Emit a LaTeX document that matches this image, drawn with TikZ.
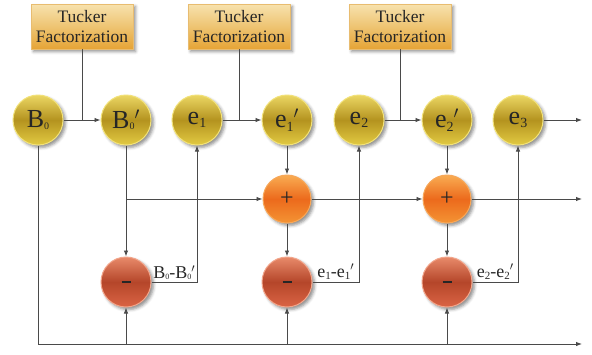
\documentclass[tikz,border=0pt]{standalone}
\usepackage{fontspec}
\setmainfont{Liberation Serif}
\usetikzlibrary{arrows.meta,shadows.blur,calc}

\definecolor{wirecol}{HTML}{4A4A4A}
\definecolor{boxtop}{HTML}{F7E2AE}
\definecolor{boxmid}{HTML}{EEC472}
\definecolor{boxbot}{HTML}{E6A436}
\definecolor{boxedge}{HTML}{E8BC70}
\definecolor{goldtop}{HTML}{EBD663}
\definecolor{goldmid}{HTML}{B4931F}
\definecolor{goldbot}{HTML}{E2CA42}
\definecolor{goldedge}{HTML}{F2E27A}
\definecolor{orgtop}{HTML}{F9AC52}
\definecolor{orgmid}{HTML}{EC6A1C}
\definecolor{orgbot}{HTML}{F49434}
\definecolor{orgedge}{HTML}{F7A85A}
\definecolor{redtop}{HTML}{E88A6A}
\definecolor{redmid}{HTML}{B5462A}
\definecolor{redbot}{HTML}{DA6444}
\definecolor{rededge}{HTML}{F2A68C}

% small index digits set close to the baseline
\newcommand{\lowidx}[1]{\raisebox{-0.1ex}{\fontsize{10}{10}\selectfont #1}}
\newcommand{\midx}[1]{\raisebox{-0.3ex}{\fontsize{14}{14}\selectfont #1}}
\newcommand{\smallidx}[1]{\raisebox{-0.1ex}{\fontsize{8}{8}\selectfont #1}}
\newcommand{\labidx}[1]{\raisebox{-0.3ex}{\fontsize{11}{11}\selectfont #1}}
\newcommand{\prm}{\ensuremath{{}'}}

\tikzset{
  wire/.style={draw=wirecol, line width=0.9pt},
  arr/.style={wire, -{Latex[length=6pt,width=4.5pt]}},
  shadowed/.style={blur shadow={shadow xshift=2.5pt, shadow yshift=-2.5pt,
      shadow blur radius=3pt, shadow opacity=45}},
  tucker/.style={rectangle, minimum width=102pt, minimum height=45pt,
      inner sep=0pt, draw=boxedge, line width=0.4pt, shadowed,
      top color=boxtop, bottom color=boxbot, middle color=boxmid,
      font=\fontsize{17.5}{20}\selectfont, align=center, text=black!85},
  ball/.style={circle, minimum size=50pt, inner sep=0pt, line width=1pt,
      shadowed, text=black!85},
  gold/.style={ball, draw=goldedge, top color=goldtop, bottom color=goldbot,
      middle color=goldmid, font=\fontsize{26}{26}\selectfont},
  plusball/.style={ball, minimum size=48pt, draw=orgedge, top color=orgtop,
      bottom color=orgbot, middle color=orgmid, font=\fontsize{24}{24}\selectfont},
  minusball/.style={ball, draw=rededge, top color=redtop, bottom color=redbot,
      middle color=redmid},
  difflabel/.style={midway, above, inner sep=2pt, font=\fontsize{18}{18}\selectfont,
      text=black!85}
}

\begin{document}
\begin{tikzpicture}[x=1pt, y=-1pt]
\useasboundingbox (0,0) rectangle (592,354);

% factorization blocks
\node[tucker] (t1) at (82,26.5)  {Tucker\\Factorization};
\node[tucker] (t2) at (239,26.5) {Tucker\\Factorization};
\node[tucker] (t3) at (400,26.5) {Tucker\\Factorization};

% top row of values
\node[gold] (b0)  at (38,120)  {B\lowidx{0}};
\node[gold] (b0p) at (126,120) {B\lowidx{0}\prm};
\node[gold] (e1)  at (197,120) {e\midx{1}};
\node[gold] (e1p) at (287,120) {e\midx{1}\prm};
\node[gold] (e2)  at (359,120) {e\midx{2}};
\node[gold] (e2p) at (447,120) {e\midx{2}\prm};
\node[gold] (e3)  at (518,120) {e\midx{3}};

% adders and subtractors
\node[plusball] (p1) at (287,199) {+};
\node[plusball] (p2) at (447,199) {+};
\node[minusball] (m1) at (126,282) {\rule{9pt}{1.2pt}};
\node[minusball] (m2) at (287,282) {\rule{9pt}{1.2pt}};
\node[minusball] (m3) at (447,282) {\rule{9pt}{1.2pt}};

% free ends
\coordinate (topend) at (582,120);
\coordinate (sumend) at (582,199);
\coordinate (botend) at (582,344);
\coordinate (botstart) at (38,344);

% top row arrows with the factorization taps
\draw[arr] (b0) -- (b0p);
\draw[wire] (t1.south) -- (t1.south |- b0.east);
\draw[arr] (e1) -- (e1p);
\draw[wire] (t2.south) -- (t2.south |- e1.east);
\draw[arr] (e2) -- (e2p);
\draw[wire] (t3.south) -- (t3.south |- e2.east);
\draw[arr] (e3) -- (topend);

% bottom bus from B0
\draw[arr] (b0.south) -- (botstart) -- (botend);
\draw[arr] (m1 |- botend) -- (m1.south);
\draw[arr] (m2 |- botend) -- (m2.south);
\draw[arr] (m3 |- botend) -- (m3.south);

% reconstructions into adders and subtractors
\draw[arr] (b0p.south) -- (m1.north);
\draw[arr] (b0p.south |- p1.west) -- (p1.west);
\draw[arr] (e1p.south) -- (p1.north);
\draw[arr] (p1.south) -- (m2.north);
\draw[arr] (p1.east) -- (p2.west);
\draw[arr] (e2p.south) -- (p2.north);
\draw[arr] (p2.south) -- (m3.north);
\draw[arr] (p2.east) -- (sumend);

% residuals fed back to the next value
\draw[arr] (m1.east) -- node[difflabel] {B\smallidx{0}-B\smallidx{0}\prm} (e1 |- m1.east) -- (e1.south);
\draw[arr] (m2.east) -- node[difflabel] {e\labidx{1}-e\labidx{1}\prm} (e2 |- m2.east) -- (e2.south);
\draw[arr] (m3.east) -- node[difflabel] {e\labidx{2}-e\labidx{2}\prm} (e3 |- m3.east) -- (e3.south);
\end{tikzpicture}
\end{document}
